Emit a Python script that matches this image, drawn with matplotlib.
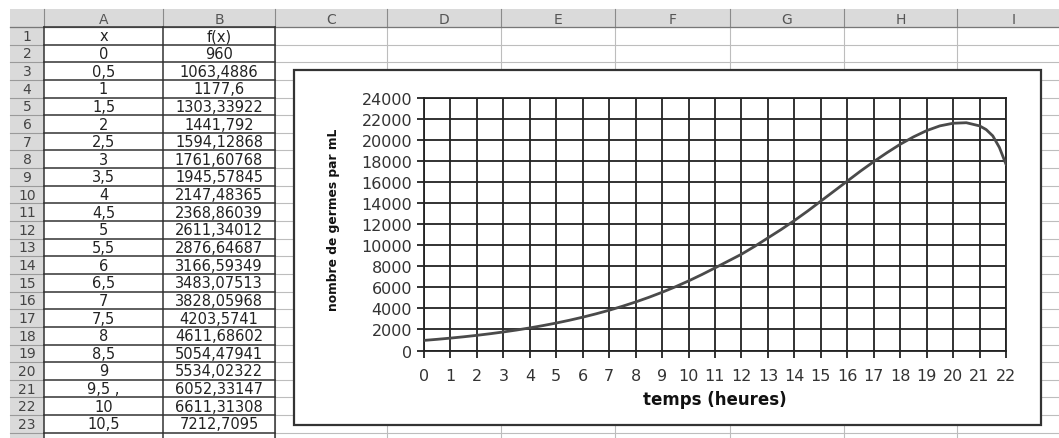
import matplotlib.pyplot as plt
from matplotlib.patches import Rectangle

# Tableau de la feuille (colonnes A et B)
x_txt = ["0", "0,5", "1", "1,5", "2", "2,5", "3", "3,5", "4", "4,5", "5",
         "5,5", "6", "6,5", "7", "7,5", "8", "8,5", "9", "9,5 ,", "10", "10,5"]
fx_txt = ["960", "1063,4886", "1177,6", "1303,33922", "1441,792", "1594,12868",
          "1761,60768", "1945,57845", "2147,48365", "2368,86039", "2611,34012",
          "2876,64687", "3166,59349", "3483,07513", "3828,05968", "4203,5741",
          "4611,68602", "5054,47941", "5534,02322", "6052,33147", "6611,31308",
          "7212,7095"]
x_tab = [0, 0.5, 1, 1.5, 2, 2.5, 3, 3.5, 4, 4.5, 5, 5.5, 6, 6.5, 7, 7.5,
         8, 8.5, 9, 9.5, 10, 10.5]
fx_tab = [960, 1063.4886, 1177.6, 1303.33922, 1441.792, 1594.12868,
          1761.60768, 1945.57845, 2147.48365, 2368.86039, 2611.34012,
          2876.64687, 3166.59349, 3483.07513, 3828.05968, 4203.5741,
          4611.68602, 5054.47941, 5534.02322, 6052.33147, 6611.31308, 7212.7095]

# Suite de la courbe (lignes cachées du tableau)
x_lu = [11, 11.5, 12, 12.5, 13, 13.5, 14, 14.5, 15, 15.5, 16, 16.5, 17,
        17.5, 18, 18.5, 19, 19.5, 20, 20.5, 21, 21.25, 21.5, 21.75, 22]
fx_lu = [7850, 8500, 9150, 9900, 10700, 11500, 12350, 13250, 14200, 15150,
         16100, 17050, 17950, 18800, 19600, 20300, 20900, 21350, 21600,
         21650, 21350, 21000, 20400, 19300, 17700]

lettres = ["A", "B", "C", "D", "E", "F", "G", "H", "I"]

W, H = 1059, 439
fig = plt.figure(figsize=(W / 100, H / 100), dpi=100)

# --- fond : la feuille de calcul, en pixels ---
bg = fig.add_axes([0, 0, 1, 1])
bg.set_xlim(0, W)
bg.set_ylim(H, 0)
bg.axis("off")

bords = [10, 44, 163, 275, 387, 501, 615, 730, 844, 957, 1071]
haut_ent, bas_ent = 10, 28
h_ligne = 17.64
n_lignes = 23

# bandeau gris des en-têtes + colonne des numéros
bg.add_patch(Rectangle((10, haut_ent), W, bas_ent - haut_ent,
                       facecolor="#dadada", edgecolor="none", zorder=1))
bg.add_patch(Rectangle((10, haut_ent), bords[1] - 10, H,
                       facecolor="#dadada", edgecolor="none", zorder=1))

# quadrillage pâle des cellules
for k in range(n_lignes + 1):
    y = bas_ent + k * h_ligne
    bg.plot([bords[3], W], [y, y], color="#bdbdbd", lw=0.8, zorder=1)
    bg.plot([10, bords[1]], [y, y], color="#9a9a9a", lw=0.8, zorder=2)
for xb in bords[3:]:
    bg.plot([xb, xb], [bas_ent, H], color="#bdbdbd", lw=0.8, zorder=1)
for xb in bords[1:]:
    bg.plot([xb, xb], [haut_ent, bas_ent], color="#8a8a8a", lw=0.8, zorder=2)
bg.plot([10, W], [bas_ent, bas_ent], color="#777777", lw=0.9, zorder=2)

# bordures foncées des colonnes A et B
for k in range(n_lignes + 1):
    y = bas_ent + k * h_ligne
    bg.plot([bords[1], bords[3]], [y, y], color="#333333", lw=1.1, zorder=3)
for xb in bords[1:4]:
    bg.plot([xb, xb], [bas_ent, H], color="#333333", lw=1.1, zorder=3)

# textes des en-têtes
for i, lt in enumerate(lettres):
    xc = (bords[i + 1] + bords[i + 2]) / 2
    bg.text(xc, (haut_ent + bas_ent) / 2 + 1, lt, ha="center", va="center",
            fontsize=10, color="#555555", zorder=4)

# numéros de lignes et contenu du tableau
for k in range(n_lignes):
    yc = bas_ent + (k + 0.5) * h_ligne
    bg.text((10 + bords[1]) / 2, yc, str(k + 1), ha="center", va="center",
            fontsize=10, color="#444444", zorder=4)
xa = (bords[1] + bords[2]) / 2
xb_ = (bords[2] + bords[3]) / 2
y1 = bas_ent + 0.5 * h_ligne
bg.text(xa, y1, "x", ha="center", va="center", fontsize=10.5, color="#222222", zorder=4)
bg.text(xb_, y1, "f(x)", ha="center", va="center", fontsize=10.5, color="#222222", zorder=4)
for k, (a, b) in enumerate(zip(x_txt, fx_txt)):
    yc = bas_ent + (k + 1.5) * h_ligne
    bg.text(xa, yc, a, ha="center", va="center", fontsize=10.5, color="#222222", zorder=4)
    bg.text(xb_, yc, b, ha="center", va="center", fontsize=10.5, color="#222222", zorder=4)

# cadre du graphique
bg.add_patch(Rectangle((293.5, 70.5), 747, 355, facecolor="white",
                       edgecolor="#333333", lw=1.6, zorder=5))

# --- le graphique ---
ax = fig.add_axes([424 / W, 1 - 351.5 / H, 582 / W, 252.5 / H])
ax.set_zorder(6)
ax.plot(x_tab + x_lu, fx_tab + fx_lu, color="#4a4a4a", lw=2.0, zorder=3)
ax.set_xlim(0, 22)
ax.set_ylim(0, 24000)
ax.set_xticks(range(0, 23))
ax.set_yticks(range(0, 24001, 2000))
ax.grid(True, color="#222222", lw=1.3)
ax.set_axisbelow(True)
for s in ax.spines.values():
    s.set_color("#222222")
    s.set_linewidth(1.3)
ax.tick_params(axis="x", length=5, width=1.3, color="#222222", pad=7.5,
               labelsize=11.5, labelcolor="#333333")
ax.tick_params(axis="y", length=5, width=1.3, color="#222222", pad=3.5,
               labelsize=11.5, labelcolor="#333333")

fig.text(333 / W, 1 - 220 / H, "nombre de germes par mL", rotation=90,
         ha="center", va="center", fontsize=8.8, fontweight="bold", color="#111111")
fig.text(715 / W, 1 - 400 / H, "temps (heures)", ha="center", va="center",
         fontsize=12, fontweight="bold", color="#111111")

fig.savefig("out.png", dpi=100)
